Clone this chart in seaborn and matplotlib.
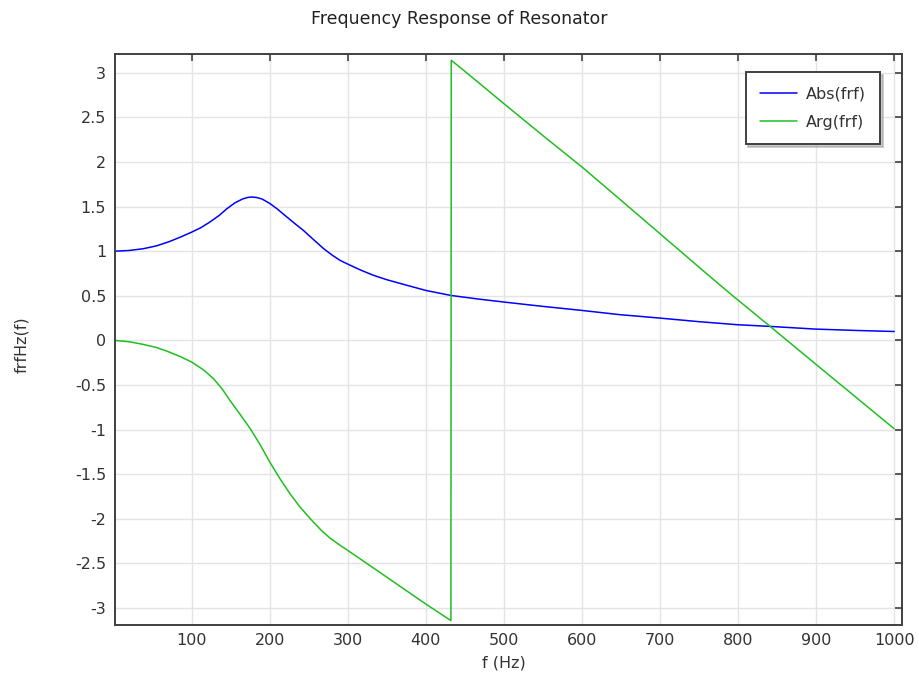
import matplotlib
matplotlib.use("Agg")
import matplotlib.pyplot as plt
from matplotlib.ticker import FuncFormatter, MultipleLocator
import seaborn as sns
import pandas as pd

# Magnitude of the frequency response vs frequency (Hz)
abs_freq = [1, 20, 38, 55, 72, 86, 100, 112, 123, 135, 145, 155, 165, 172,
            177, 183, 190, 200, 210, 222, 232, 243, 256, 269, 280, 290, 300,
            316, 333, 350, 376, 400, 432, 466, 500, 546, 600, 649, 675, 700,
            750, 799, 841, 899, 950, 1000]
abs_val = [1.0, 1.008, 1.028, 1.06, 1.11, 1.16, 1.214, 1.265, 1.326, 1.40,
           1.476, 1.54, 1.585, 1.603, 1.607, 1.602, 1.585, 1.535, 1.47, 1.382,
           1.31, 1.233, 1.13, 1.028, 0.955, 0.897, 0.855, 0.79, 0.729, 0.68,
           0.617, 0.56, 0.504, 0.465, 0.43, 0.385, 0.336, 0.288, 0.269, 0.25,
           0.21, 0.176, 0.157, 0.127, 0.112, 0.1]

# Phase (rad), wrapped to [-pi, pi]
arg_freq = [1, 20, 38, 55, 68, 85, 100, 115, 128, 139, 149, 162, 175, 188,
            200, 213, 226, 239, 252, 265, 277, 289, 300, 316, 341, 370, 400,
            432, 432.5, 466, 500, 550, 601, 650, 699, 750, 790, 841, 900, 950,
            1000]
arg_val = [0.0, -0.015, -0.045, -0.08, -0.12, -0.18, -0.243, -0.33, -0.43,
           -0.545, -0.673, -0.83, -0.99, -1.175, -1.364, -1.55, -1.72, -1.87,
           -2.0, -2.12, -2.215, -2.29, -2.354, -2.45, -2.6, -2.775, -2.955,
           -3.14, 3.14, 2.9, 2.653, 2.295, 1.936, 1.57, 1.203, 0.82, 0.523,
           0.157, -0.27, -0.63, -0.99]

series_names = ["Abs(frf)", "Arg(frf)"]
series_colors = ["#0000ff", "#1fbf1f"]

df = pd.concat([
    pd.DataFrame({"f": abs_freq, "v": abs_val, "series": series_names[0]}),
    pd.DataFrame({"f": arg_freq, "v": arg_val, "series": series_names[1]}),
], ignore_index=True)

sns.set_style("white")
plt.rcParams["font.family"] = ["DejaVu Sans"]

fig = plt.figure(figsize=(9.19, 6.75), dpi=100)
ax = fig.add_axes([0.1246, 0.074, 0.9815 - 0.1246, 0.92 - 0.074])

for name, color in zip(series_names, series_colors):
    sub = df[df["series"] == name]
    sns.lineplot(data=sub, x="f", y="v", ax=ax, color=color, label=name,
                 estimator=None, sort=False, linewidth=1.1)

ax.set_xlim(1, 1010)
ax.set_ylim(-3.19, 3.21)
ax.set_xticks(range(100, 1001, 100))
ax.yaxis.set_major_locator(MultipleLocator(0.5))
fmt = FuncFormatter(lambda v, p: f"{v:g}")
ax.xaxis.set_major_formatter(fmt)
ax.yaxis.set_major_formatter(fmt)

ax.grid(True, color="#e4e4e4", linewidth=1.0)
ax.set_axisbelow(True)
for s in ax.spines.values():
    s.set_color("#404040")
    s.set_linewidth(1.4)
ax.tick_params(direction="in", length=5, width=1.2, color="#404040",
               top=True, right=True, labelsize=11.5, labelcolor="#333333",
               pad=6)

ax.set_xlabel("")
ax.set_ylabel("")
fig.text(0.548, 0.018, "f (Hz)", ha="center", va="center", fontsize=11.5,
         color="#333333")
fig.text(0.024, 0.49, "frfHz(f)", ha="center", va="center", rotation=90,
         fontsize=11.5, color="#333333")
fig.text(0.5, 0.972, "Frequency Response of Resonator", ha="center",
         va="center", fontsize=12.5, color="#222222")

leg = ax.legend(loc="upper right", bbox_to_anchor=(0.972, 0.9685),
                borderaxespad=0, frameon=True, fancybox=False,
                shadow={"color": "#9a9a9a"}, fontsize=11.5,
                handlelength=2.3, borderpad=0.9, labelspacing=0.85,
                handletextpad=0.55)
frame = leg.get_frame()
frame.set_edgecolor("#404040")
frame.set_linewidth(1.4)
frame.set_facecolor("white")
frame.set_alpha(1.0)
for t in leg.get_texts():
    t.set_color("#333333")

fig.savefig("out.png", dpi=100, facecolor="white")
